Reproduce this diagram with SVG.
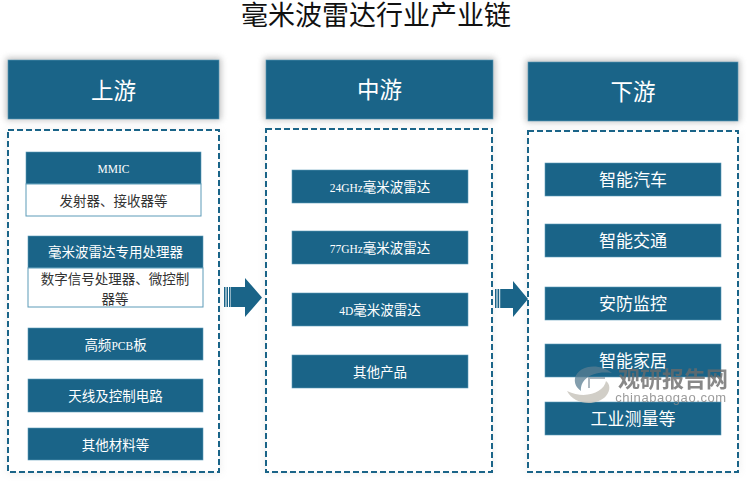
<svg xmlns="http://www.w3.org/2000/svg" width="750" height="485" viewBox="0 0 750 485">
<style>
text{font-family:"Liberation Serif","Noto Sans CJK SC",serif;text-anchor:middle}
.bar{fill:#1a6488;stroke:#5d9bb8;stroke-width:.6}
.white{fill:#fff;stroke:#5d9bb8;stroke-width:1}
.dash{fill:#fff;stroke:#1a6488;stroke-width:2;stroke-dasharray:6 3}
.hd{fill:#fff;font-size:22.500px}
.t{fill:#fff;font-size:13.500px}
.d{fill:#333;font-size:13.500px}
.l{font-size:11.500px}
.r{fill:#fff;font-size:17px}
.arrow{fill:#1a6488}
</style>
<defs>
<filter id="hs" x="-10%" y="-20%" width="120%" height="140%"><feGaussianBlur stdDeviation="3"/></filter>
<filter id="bs" x="-10%" y="-10%" width="120%" height="120%"><feGaussianBlur stdDeviation="4"/></filter>
</defs>
<rect width="750" height="485" fill="#fff"/>
<text x="376" y="25" style="font-size:27px;fill:#111">毫米波雷达行业产业链</text>

<g id="upstream">
<rect x="6" y="58" width="215" height="62" fill="#888" opacity=".55" filter="url(#hs)"/>
<rect x="8" y="60" width="211" height="59" class="bar"/>
<text x="113.500" y="99" class="hd">上游</text>
<rect x="8" y="131" width="211" height="342" fill="#ccc" opacity=".45" filter="url(#bs)"/>
<rect x="8" y="130" width="211" height="342" class="dash"/>
</g>
<g id="mmic">
<rect x="26" y="152" width="175" height="32" class="bar"/>
<rect x="26" y="184" width="175" height="32" class="white"/>
<text x="113.500" y="173" class="t l">MMIC</text>
<text x="113.500" y="206" class="d">发射器、接收器等</text>
</g>
<g id="processor">
<rect x="28" y="236" width="175" height="32" class="bar"/>
<rect x="28" y="268" width="175" height="39" class="white"/>
<text x="115.500" y="257" class="t">毫米波雷达专用处理器</text>
<text x="115" y="284" class="d">数字信号处理器、微控制</text>
<text x="115" y="304" class="d">器等</text>
</g>
<g id="pcb"><rect x="28" y="328" width="175" height="32" class="bar"/><text x="115.500" y="350" class="t">高频<tspan class="l">PCB</tspan>板</text></g>
<g id="antenna"><rect x="28" y="379" width="175" height="33" class="bar"/><text x="115.500" y="401" class="t">天线及控制电路</text></g>
<g id="other-materials"><rect x="28" y="428" width="175" height="32" class="bar"/><text x="115.500" y="450" class="t">其他材料等</text></g>

<g id="midstream">
<rect x="264" y="58" width="231" height="62" fill="#888" opacity=".55" filter="url(#hs)"/>
<rect x="266" y="60" width="227" height="59" class="bar"/>
<text x="379.500" y="98" class="hd">中游</text>
<rect x="266" y="130" width="226" height="342" fill="#ccc" opacity=".45" filter="url(#bs)"/>
<rect x="266" y="129" width="226" height="343" class="dash"/>
</g>
<g id="radar-24"><rect x="292" y="170" width="176" height="33" class="bar"/><text x="380" y="192" class="t"><tspan class="l">24GHz</tspan>毫米波雷达</text></g>
<g id="radar-77"><rect x="292" y="231" width="176" height="33" class="bar"/><text x="380" y="253" class="t"><tspan class="l">77GHz</tspan>毫米波雷达</text></g>
<g id="radar-4d"><rect x="292" y="293" width="176" height="33" class="bar"/><text x="380" y="315" class="t"><tspan class="l">4D</tspan>毫米波雷达</text></g>
<g id="other-products"><rect x="292" y="355" width="176" height="33" class="bar"/><text x="380" y="377" class="t">其他产品</text></g>

<g id="downstream">
<rect x="526" y="60" width="214" height="62" fill="#888" opacity=".55" filter="url(#hs)"/>
<rect x="528" y="62" width="210" height="59" class="bar"/>
<text x="633" y="100" class="hd">下游</text>
<rect x="528" y="132" width="210" height="340" fill="#ccc" opacity=".45" filter="url(#bs)"/>
<rect x="528" y="131" width="210" height="341" class="dash"/>
</g>
<g id="car"><rect x="545" y="163" width="176" height="33" class="bar"/><text x="633" y="186" class="r">智能汽车</text></g>
<g id="traffic"><rect x="545" y="224" width="176" height="33" class="bar"/><text x="633" y="247" class="r">智能交通</text></g>
<g id="security"><rect x="545" y="287" width="176" height="33" class="bar"/><text x="633" y="310" class="r">安防监控</text></g>
<g id="home"><rect x="545" y="344" width="176" height="33" class="bar"/><text x="633" y="367" class="r">智能家居</text></g>
<g id="industry"><rect x="545" y="402" width="176" height="33" class="bar"/><text x="633" y="425" class="r">工业测量等</text></g>

<g id="connectors">
<path class="arrow" d="M231 287H245V278L262 297.500L245 317V307H231Z"/>
<rect x="224" y="287" width="1.500" height="20" class="arrow"/>
<rect x="226.500" y="287" width="1.500" height="20" class="arrow"/>
<rect x="229" y="287" width="1.500" height="20" class="arrow"/>
<path class="arrow" d="M501 289H513V281L528 299L513 317V308H501Z"/>
<rect x="495" y="289" width="1.500" height="19" class="arrow"/>
<rect x="497.500" y="289" width="1.500" height="19" class="arrow"/>
<rect x="499.800" y="289" width="1" height="19" class="arrow"/>
</g>

<g id="watermark">
<path d="M612 373C598 362 578 366 575 378C574 384 577 388 581 391C580 381 590 370 612 373Z" fill="#5a7e92" opacity=".75"/>
<path d="M567 391C574 405 596 407 606 396C611 390 610 384 606 381C604 392 586 400 567 391Z" fill="#c9c6bd" opacity=".85"/>
<path d="M605 378H589V388" fill="none" stroke="#8a9aa5" stroke-width="2" opacity=".7"/>
<text x="673" y="387" style="font-size:22px;font-weight:700;fill:#6b6b6b;opacity:.8;font-family:'Noto Sans CJK SC',sans-serif">观研报告网</text>
<text x="671" y="402" style="font-size:13px;fill:#8a8a8a;opacity:.85;font-family:'Liberation Sans',sans-serif;letter-spacing:.6px">chinabaogao.com</text>
</g>
</svg>
